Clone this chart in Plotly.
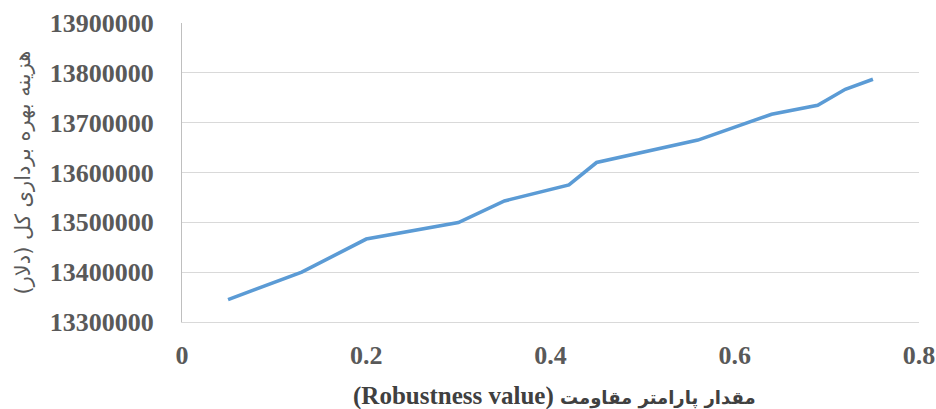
import plotly.graph_objects as go

robustness = [0.05, 0.13, 0.20, 0.30, 0.35, 0.42, 0.45, 0.56, 0.64, 0.69, 0.72, 0.75]
total_cost = [13345000, 13400000, 13466500, 13499500, 13543000, 13575000,
              13620000, 13665000, 13717000, 13735000, 13767000, 13787000]

x_tickvals = [0, 0.2, 0.4, 0.6, 0.8]
x_ticktext = ["0", "0.2", "0.4", "0.6", "0.8"]
y_tickvals = [13300000, 13400000, 13500000, 13600000, 13700000, 13800000, 13900000]
y_ticktext = [str(v) for v in y_tickvals]

x_title_en = "(Robustness value) "
x_title_fa = "مقدار پارامتر مقاومت"
y_title = "هزینه بهره برداری کل (دلار)\u200f"

TICK_FONT = dict(family="Liberation Serif, Times New Roman, serif", size=26,
                 color="#595959", weight="bold")

fig = go.Figure()
fig.add_trace(go.Scatter(
    x=robustness, y=total_cost, mode="lines",
    line=dict(color="#5B9BD5", width=3.6),
    showlegend=False, hoverinfo="x+y",
))

fig.update_layout(
    width=936, height=409,
    margin=dict(l=182, r=17, t=23, b=87, autoexpand=False),
    paper_bgcolor="white", plot_bgcolor="white",
    xaxis=dict(
        range=[0, 0.8], tickvals=x_tickvals, ticktext=x_ticktext,
        showgrid=False, zeroline=False, automargin=False,
        showline=True, linecolor="#D9D9D9", linewidth=1.3,
        ticks="", tickfont=TICK_FONT,
        ticklabelstandoff=10,
    ),
    yaxis=dict(
        range=[13300000, 13900000], tickvals=y_tickvals, ticktext=y_ticktext,
        showgrid=True, gridcolor="#D9D9D9", gridwidth=1.3,
        zeroline=False, automargin=False,
        showline=True, linecolor="#BFBFBF", linewidth=1.3,
        ticks="", tickfont=TICK_FONT,
        ticklabelstandoff=22,
    ),
    annotations=[
        dict(text=x_title_en + '<span style="font-family:\'DejaVu Sans\';font-size:18px">'
             + x_title_fa + "</span>",
             xref="paper", yref="paper", x=0.506, y=0,
             xanchor="center", yanchor="middle", yshift=-74, showarrow=False,
             font=dict(family="Liberation Serif, DejaVu Sans, serif", size=25,
                       color="#404040", weight="bold")),
        dict(text=y_title, xref="paper", yref="paper", x=0, y=0.5,
             xanchor="center", yanchor="middle", xshift=-160, showarrow=False,
             textangle=-90,
             font=dict(family="DejaVu Sans, sans-serif", size=21, color="#595959")),
    ],
)

fig.write_html(
    "out.html",
    config={"displayModeBar": False},
    post_script="document.body.style.margin='0';document.body.style.overflow='hidden';",
)
